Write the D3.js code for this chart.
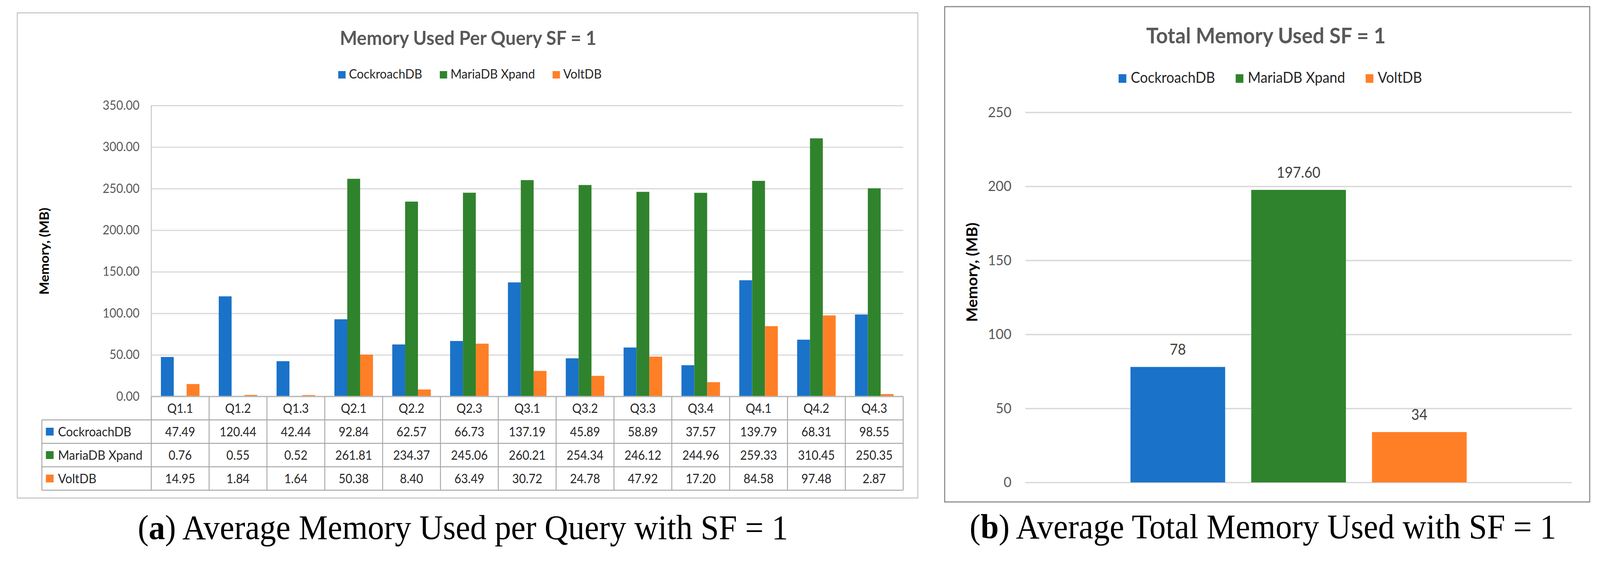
<!DOCTYPE html>
<html>
<head>
<meta charset="utf-8">
<script src="https://cdn.jsdelivr.net/npm/d3@7"></script>
<style>
  html, body { margin: 0; padding: 0; background: #fff; overflow: hidden; }
  svg { display: block; width: 100vw; height: 100vh; }
  text { font-family: Lato, "Open Sans", sans-serif; }
  text.caption { font-family: "Liberation Serif", "Times New Roman", serif; fill: #000; }
</style>
</head>
<body>
<div id="chart"></div>
<script>
// data
const queries = ["Q1.1", "Q1.2", "Q1.3", "Q2.1", "Q2.2", "Q2.3", "Q3.1", "Q3.2", "Q3.3", "Q3.4", "Q4.1", "Q4.2", "Q4.3"];
const cockroachDB = [47.49, 120.44, 42.44, 92.84, 62.57, 66.73, 137.19, 45.89, 58.89, 37.57, 139.79, 68.31, 98.55];
const mariaDBXpand = [0.76, 0.55, 0.52, 261.81, 234.37, 245.06, 260.21, 254.34, 246.12, 244.96, 259.33, 310.45, 250.35];
const voltDB = [14.95, 1.84, 1.64, 50.38, 8.40, 63.49, 30.72, 24.78, 47.92, 17.20, 84.58, 97.48, 2.87];
const seriesNames = ["CockroachDB", "MariaDB Xpand", "VoltDB"];
const seriesColors = ["#1a72c9", "#30832d", "#ff7f27"];
const totalMemory = [78, 197.60, 34];
const totalLabels = ["78", "197.60", "34"];
const queryTicks = [0, 50, 100, 150, 200, 250, 300, 350];
const totalTicks = [0, 50, 100, 150, 200, 250];

const width = 4358, height = 1449;

const svg = d3.select("#chart").append("svg")
    .attr("viewBox", "0 0 " + width + " " + height)
    .attr("preserveAspectRatio", "none");

svg.append("rect")
    .attr("width", width)
    .attr("height", height)
    .attr("fill", "#fff");

const color = d3.scaleOrdinal().domain(seriesNames).range(seriesColors);

// lays out swatch + name items in a row, centred on cx
function drawLegend(g, cx, baseline, o) {
    let items = g.selectAll("g.item")
        .data(seriesNames)
        .enter().append("g")
        .attr("class", "item");
    items.append("rect")
        .attr("width", o.sw)
        .attr("height", o.sh)
        .attr("y", baseline - o.sh)
        .attr("fill", d => color(d));
    items.append("text")
        .attr("y", baseline)
        .attr("font-size", o.fs)
        .attr("fill", "#262626")
        .text(d => d);
    let pos = 0;
    items.each(function () {
        let it = d3.select(this);
        it.select("rect").attr("x", pos);
        it.select("text").attr("x", pos + o.sw + o.gap);
        pos += o.sw + o.gap + it.select("text").node().getComputedTextLength() + o.space;
    });
    pos -= o.space;
    g.attr("transform", "translate(" + (cx - pos / 2) + ",0)");
}

/* ------- (a) MEMORY USED PER QUERY -------*/

const left = svg.append("g");
const perQuery = [cockroachDB, mariaDBXpand, voltDB];

left.append("rect")
    .attr("x", 47).attr("y", 33)
    .attr("width", 2453).attr("height", 1242)
    .attr("fill", "none")
    .attr("stroke", "#b4b4b4")
    .attr("stroke-width", 2);

const x = d3.scaleBand().domain(queries).range([412, 2460]);
const xInner = d3.scaleBand().domain(seriesNames).range([0, x.bandwidth()]).paddingOuter(0.75);
const y = d3.scaleLinear().domain([0, 350]).range([1015, 270]);

const yAxis = left.append("g")
    .attr("transform", "translate(412,0)")
    .call(d3.axisLeft(y)
        .tickValues(queryTicks)
        .tickSize(-(2460 - 412))
        .tickPadding(32)
        .tickFormat(d3.format(".2f")));
yAxis.select(".domain").remove();
yAxis.selectAll("line")
    .attr("stroke", "#d9d9d9")
    .attr("stroke-width", 3);
yAxis.selectAll("text")
    .attr("font-size", 32)
    .attr("fill", "#595959");

left.append("line")
    .attr("x1", 412).attr("x2", 412)
    .attr("y1", y(350)).attr("y2", y(0))
    .attr("stroke", "#c4c4c4")
    .attr("stroke-width", 2.5);

perQuery.forEach((vals, s) => {
    left.append("g").selectAll("rect")
        .data(vals)
        .enter().append("rect")
        .attr("x", (d, i) => x(queries[i]) + xInner(seriesNames[s]))
        .attr("y", d => y(d))
        .attr("width", xInner.bandwidth())
        .attr("height", d => y(0) - y(d))
        .attr("fill", seriesColors[s]);
});

/* ------- DATA TABLE -------*/

const row = d3.scaleBand().domain(["cat"].concat(seriesNames)).range([y(0), y(0) + 240]);
const tableLeft = 114;
const table = left.append("g");

table.append("line")
    .attr("x1", 412).attr("x2", 2460)
    .attr("y1", y(0)).attr("y2", y(0))
    .attr("stroke", "#b8b8b8")
    .attr("stroke-width", 3);

seriesNames.forEach(s => {
    table.append("line")
        .attr("x1", tableLeft).attr("x2", 2460)
        .attr("y1", row(s)).attr("y2", row(s))
        .attr("stroke", "#a6a6a6")
        .attr("stroke-width", 2.5);
});
table.append("line")
    .attr("x1", tableLeft).attr("x2", 2460)
    .attr("y1", row.range()[1]).attr("y2", row.range()[1])
    .attr("stroke", "#a6a6a6")
    .attr("stroke-width", 2.5);

table.selectAll("line.col")
    .data(queries.concat(["end"]))
    .enter().append("line")
    .attr("class", "col")
    .attr("x1", (d, i) => 412 + i * x.bandwidth())
    .attr("x2", (d, i) => 412 + i * x.bandwidth())
    .attr("y1", y(0)).attr("y2", row.range()[1])
    .attr("stroke", "#a6a6a6")
    .attr("stroke-width", 2.5);
table.append("line")
    .attr("x1", tableLeft).attr("x2", tableLeft)
    .attr("y1", row(seriesNames[0])).attr("y2", row.range()[1])
    .attr("stroke", "#a6a6a6")
    .attr("stroke-width", 2.5);

table.selectAll("text.cat")
    .data(queries)
    .enter().append("text")
    .attr("class", "cat")
    .attr("x", d => x(d) + x.bandwidth() / 2)
    .attr("y", row("cat") + row.bandwidth() / 2)
    .attr("dy", "0.36em")
    .attr("text-anchor", "middle")
    .attr("font-size", 32)
    .attr("fill", "#262626")
    .text(d => d);

perQuery.forEach((vals, s) => {
    let ry = row(seriesNames[s]) + row.bandwidth() / 2;
    table.append("rect")
        .attr("x", 125).attr("y", ry - 10)
        .attr("width", 21).attr("height", 20)
        .attr("fill", seriesColors[s]);
    table.append("text")
        .attr("x", 158).attr("y", ry)
        .attr("dy", "0.36em")
        .attr("font-size", 33)
        .attr("fill", "#262626")
        .text(seriesNames[s]);
    table.append("g").selectAll("text")
        .data(vals)
        .enter().append("text")
        .attr("x", (d, i) => x(queries[i]) + x.bandwidth() / 2)
        .attr("y", ry)
        .attr("dy", "0.36em")
        .attr("text-anchor", "middle")
        .attr("font-size", 32)
        .attr("fill", "#262626")
        .text(d => d3.format(".2f")(d));
});

left.append("text")
    .attr("x", 1275).attr("y", 115)
    .attr("text-anchor", "middle")
    .attr("font-size", 50)
    .attr("font-weight", "bold")
    .attr("fill", "#595959")
    .text("Memory Used Per Query SF = 1");

drawLegend(left.append("g"), 1280, 201, { sw: 20, sh: 19, gap: 9, space: 48, fs: 33 });

left.append("text")
    .attr("transform", "translate(120,643) rotate(-90)")
    .attr("text-anchor", "middle")
    .attr("dy", "0.36em")
    .attr("font-size", 35)
    .attr("font-weight", "bold")
    .attr("fill", "#000")
    .text("Memory, (MB)");

let capA = left.append("text")
    .attr("class", "caption")
    .attr("x", 1261).attr("y", 1380)
    .attr("text-anchor", "middle")
    .attr("font-size", 89);
capA.append("tspan").text("(");
capA.append("tspan").attr("font-weight", "bold").text("a");
capA.append("tspan").text(") Average Memory Used per Query with SF = 1");

/* ------- (b) TOTAL MEMORY USED -------*/

const right = svg.append("g");

right.append("rect")
    .attr("x", 2573).attr("y", 17)
    .attr("width", 1757).attr("height", 1268)
    .attr("fill", "none")
    .attr("stroke", "#8c8c8c")
    .attr("stroke-width", 3);

const xT = d3.scaleBand().domain(seriesNames).range([2793, 4281]).paddingInner(0.216).paddingOuter(0.87);
const yT = d3.scaleLinear().domain([0, 250]).range([1235, 287.5]);

const yAxisT = right.append("g")
    .attr("transform", "translate(2793,0)")
    .call(d3.axisLeft(yT)
        .tickValues(totalTicks)
        .tickSize(-(4281 - 2793))
        .tickPadding(38)
        .tickFormat(d3.format("d")));
yAxisT.select(".domain").remove();
yAxisT.selectAll("line")
    .attr("stroke", "#d9d9d9")
    .attr("stroke-width", 3.5);
yAxisT.selectAll("text")
    .attr("font-size", 37)
    .attr("fill", "#595959");

right.append("g").selectAll("rect")
    .data(totalMemory)
    .enter().append("rect")
    .attr("x", (d, i) => xT(seriesNames[i]))
    .attr("y", d => yT(d))
    .attr("width", xT.bandwidth())
    .attr("height", d => yT(0) - yT(d))
    .attr("fill", (d, i) => color(seriesNames[i]));

right.append("g").selectAll("text")
    .data(totalMemory)
    .enter().append("text")
    .attr("x", (d, i) => xT(seriesNames[i]) + xT.bandwidth() / 2)
    .attr("y", d => yT(d) - 31)
    .attr("text-anchor", "middle")
    .attr("font-size", 38)
    .attr("fill", "#404040")
    .text((d, i) => totalLabels[i]);

right.append("text")
    .attr("x", 3448).attr("y", 111)
    .attr("text-anchor", "middle")
    .attr("font-size", 56)
    .attr("font-weight", "bold")
    .attr("fill", "#595959")
    .text("Total Memory Used SF = 1");

drawLegend(right.append("g"), 3460, 212, { sw: 21, sh: 22, gap: 12, space: 56, fs: 38 });

right.append("text")
    .attr("transform", "translate(2648,697) rotate(-90)")
    .attr("text-anchor", "middle")
    .attr("dy", "0.36em")
    .attr("font-size", 40)
    .attr("font-weight", "bold")
    .attr("fill", "#000")
    .text("Memory, (MB)");

let capB = right.append("text")
    .attr("class", "caption")
    .attr("x", 3440).attr("y", 1378)
    .attr("text-anchor", "middle")
    .attr("font-size", 89);
capB.append("tspan").text("(");
capB.append("tspan").attr("font-weight", "bold").text("b");
capB.append("tspan").text(") Average Total Memory Used with SF = 1");
</script>
</body>
</html>
